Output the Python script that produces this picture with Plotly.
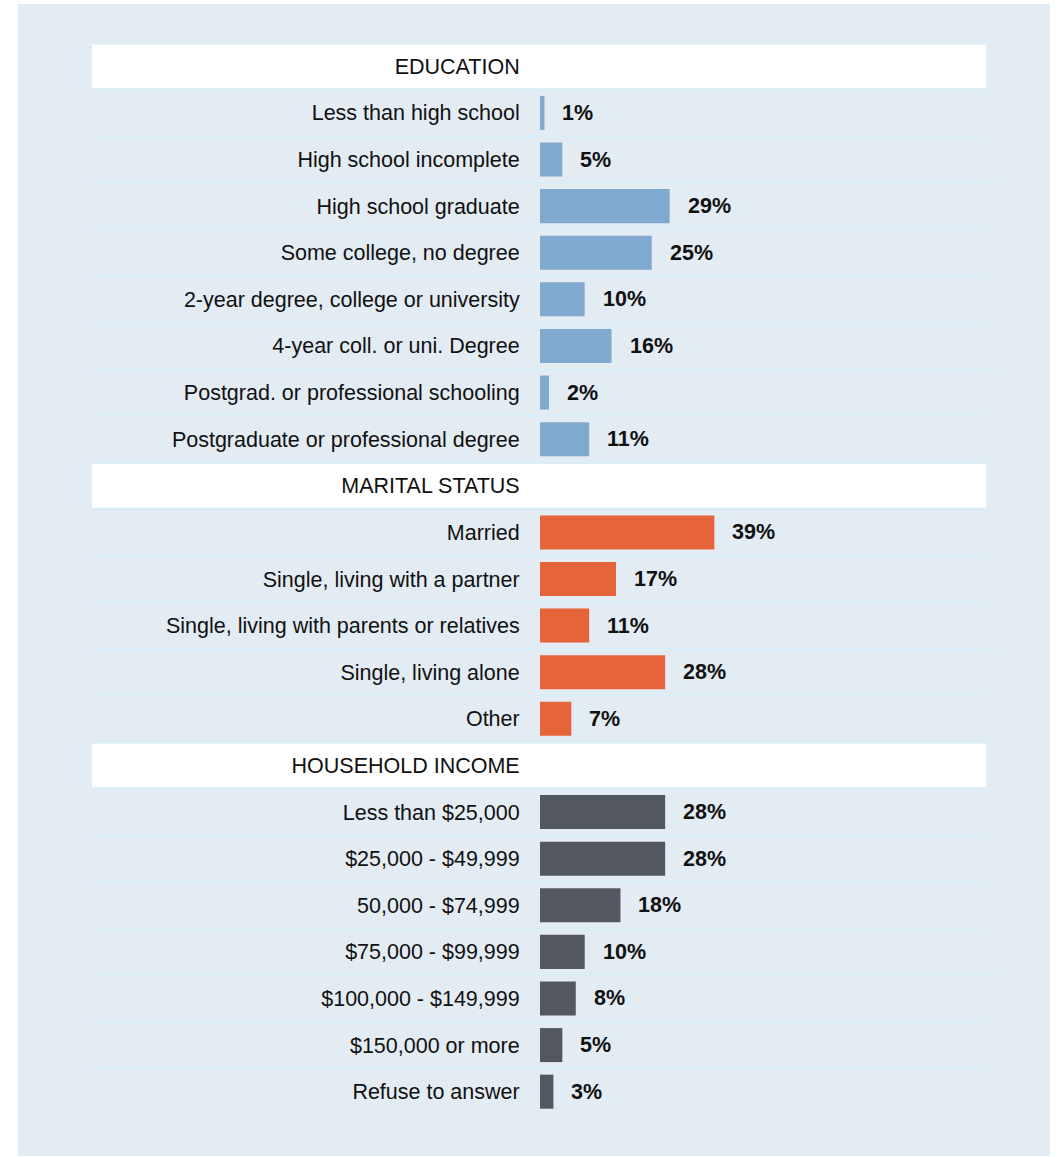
import plotly.graph_objects as go

# ---- data ----
section_titles = ["EDUCATION", "MARITAL STATUS", "HOUSEHOLD INCOME"]

edu_labels = ["Less than high school", "High school incomplete", "High school graduate",
              "Some college, no degree", "2-year degree, college or university",
              "4-year coll. or uni. Degree", "Postgrad. or professional schooling",
              "Postgraduate or professional degree"]
edu_values = [1, 5, 29, 25, 10, 16, 2, 11]

mar_labels = ["Married", "Single, living with a partner",
              "Single, living with parents or relatives", "Single, living alone", "Other"]
mar_values = [39, 17, 11, 28, 7]

inc_labels = ["Less than $25,000", "$25,000 - $49,999", "50,000 - $74,999",
              "$75,000 - $99,999", "$100,000 - $149,999", "$150,000 or more",
              "Refuse to answer"]
inc_values = [28, 28, 18, 10, 8, 5, 3]

section_colors = ["#7fa9ce", "#e5643a", "#535760"]

sections = [(edu_labels, edu_values), (mar_labels, mar_values), (inc_labels, inc_values)]

PANEL = "#e3ebf3"
LINE = "#d8eef8"
FONT = "Arial, 'Liberation Sans', sans-serif"
FSIZE = 21.5

fig = go.Figure()

tickvals, ticktext = [], []
header_rows = []
row = 0
annotations = []
for (labels, values), title, color in zip(sections, section_titles, section_colors):
    header_rows.append(row)
    tickvals.append(row)
    ticktext.append(title)
    row += 1
    ys = list(range(row, row + len(labels)))
    tickvals += ys
    ticktext += labels
    fig.add_trace(go.Bar(
        x=values, y=ys, orientation="h", marker=dict(color=color, line=dict(width=0)),
        hoverinfo="skip", showlegend=False,
    ))
    for v, yv in zip(values, ys):
        annotations.append(dict(
            x=v, y=yv, xref="x", yref="y", text=f"<b>{v}%</b>", showarrow=False,
            xanchor="left", yanchor="middle", xshift=16,
            font=dict(family=FONT, size=FSIZE, color="#111111"),
        ))
    row += len(labels)
n_rows = row

shapes = []
# panel background
shapes.append(dict(type="rect", xref="paper", yref="paper",
                   x0=-1.168, x1=1.141, y0=-0.0382, y1=1.0364,
                   fillcolor=PANEL, line=dict(width=0), layer="below"))
# header white bands
for h in header_rows:
    shapes.append(dict(type="rect", xref="paper", yref="y",
                       x0=-1.002, x1=0.998, y0=h - 0.47, y1=h + 0.47,
                       fillcolor="white", line=dict(width=0), layer="below"))
# separator lines
for i in range(n_rows + 1):
    shapes.append(dict(type="line", xref="paper", yref="y",
                       x0=-1.002, x1=1.0, y0=i - 0.5, y1=i - 0.5,
                       line=dict(color=LINE, width=2), layer="below"))

fig.update_layout(
    width=1058, height=1157,
    margin=dict(l=540, r=71, t=43, b=42),
    paper_bgcolor="white",
    plot_bgcolor="rgba(0,0,0,0)",
    bargap=0.27,
    shapes=shapes,
    annotations=annotations,
    font=dict(family=FONT, size=FSIZE, color="#111111"),
    xaxis=dict(range=[0, 100], visible=False, showgrid=False, zeroline=False),
    yaxis=dict(range=[n_rows - 0.5, -0.5], tickmode="array", tickvals=tickvals,
               ticktext=ticktext, showgrid=False, zeroline=False, showline=False,
               ticks="outside", ticklen=15, tickcolor="rgba(0,0,0,0)",
               tickfont=dict(family=FONT, size=FSIZE, color="#111111")),
)

fig.write_html("out.html")
